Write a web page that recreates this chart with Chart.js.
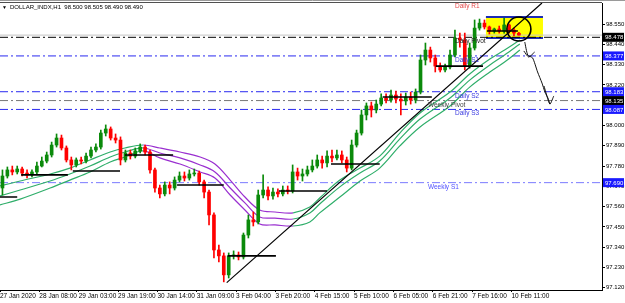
<!DOCTYPE html>
<html>
<head>
<meta charset="utf-8">
<script src="https://cdn.jsdelivr.net/npm/chart.js@4.4.1/dist/chart.umd.min.js"></script>
<style>
  html, body { margin: 0; padding: 0; background: #fff; }
</style>
</head>
<body>
<canvas id="dxChart" width="625" height="303"></canvas>
<script>
// DOLLAR_INDX H1, one candle here = 2 hours, x unit = candle slot
const symbolName = 'DOLLAR_INDX,H1';

const openP = [
  97.661, 97.726, 97.759, 97.748, 97.764, 97.742, 97.732, 97.748, 97.780, 97.807,
  97.840, 97.894, 97.932, 97.878, 97.813, 97.786, 97.813, 97.807, 97.834, 97.867,
  97.883, 97.959, 97.981, 97.932, 97.921, 97.813, 97.851, 97.834, 97.862, 97.883,
  97.856, 97.759, 97.661, 97.629, 97.677, 97.661, 97.704, 97.726, 97.715, 97.737,
  97.742, 97.694, 97.639, 97.515, 97.325, 97.293, 97.190, 97.293, 97.298, 97.287,
  97.406, 97.488, 97.477, 97.623, 97.650, 97.618, 97.639, 97.629, 97.650, 97.645,
  97.748, 97.726, 97.737, 97.759, 97.780, 97.813, 97.797, 97.834, 97.824, 97.840,
  97.813, 97.769, 97.894, 97.959, 98.057, 98.106, 98.084, 98.116, 98.149, 98.138,
  98.165, 98.143, 98.133, 98.154, 98.138, 98.181, 98.355, 98.409, 98.366, 98.322,
  98.301, 98.317, 98.382, 98.474, 98.463, 98.322, 98.420, 98.528, 98.555, 98.534,
  98.512, 98.523, 98.512, 98.545, 98.517, 98.500
];
const highP = [
  97.759, 97.775, 97.780, 97.780, 97.775, 97.759, 97.759, 97.802, 97.829, 97.856,
  97.910, 97.954, 97.948, 97.889, 97.829, 97.824, 97.829, 97.851, 97.883, 97.900,
  97.975, 98.003, 97.992, 97.954, 97.938, 97.867, 97.867, 97.878, 97.900, 97.894,
  97.867, 97.769, 97.677, 97.694, 97.694, 97.721, 97.748, 97.748, 97.759, 97.764,
  97.753, 97.704, 97.650, 97.526, 97.352, 97.309, 97.309, 97.320, 97.314, 97.417,
  97.515, 97.531, 97.650, 97.732, 97.667, 97.661, 97.656, 97.672, 97.672, 97.786,
  97.769, 97.764, 97.780, 97.813, 97.840, 97.834, 97.862, 97.867, 97.867, 97.862,
  97.829, 97.921, 97.975, 98.084, 98.122, 98.127, 98.138, 98.171, 98.171, 98.192,
  98.187, 98.171, 98.176, 98.181, 98.198, 98.382, 98.447, 98.425, 98.382, 98.339,
  98.333, 98.409, 98.517, 98.501, 98.501, 98.447, 98.572, 98.577, 98.572, 98.539,
  98.528, 98.539, 98.582, 98.550, 98.528, 98.505
];
const lowP = [
  97.623, 97.715, 97.732, 97.737, 97.726, 97.715, 97.721, 97.737, 97.775, 97.797,
  97.829, 97.883, 97.867, 97.802, 97.759, 97.775, 97.791, 97.797, 97.824, 97.856,
  97.872, 97.943, 97.921, 97.905, 97.786, 97.802, 97.818, 97.824, 97.851, 97.840,
  97.742, 97.639, 97.607, 97.618, 97.629, 97.650, 97.694, 97.699, 97.704, 97.726,
  97.677, 97.607, 97.461, 97.282, 97.260, 97.152, 97.173, 97.276, 97.271, 97.276,
  97.390, 97.455, 97.466, 97.607, 97.596, 97.601, 97.612, 97.618, 97.629, 97.634,
  97.704, 97.699, 97.726, 97.748, 97.769, 97.769, 97.775, 97.802, 97.813, 97.797,
  97.748, 97.759, 97.883, 97.948, 98.030, 98.046, 98.068, 98.106, 98.122, 98.127,
  98.122, 98.057, 98.111, 98.116, 98.122, 98.171, 98.328, 98.344, 98.290, 98.290,
  98.290, 98.306, 98.371, 98.425, 98.301, 98.311, 98.409, 98.517, 98.523, 98.496,
  98.501, 98.501, 98.501, 98.501, 98.485, 98.490
];
const closeP = [
  97.726, 97.759, 97.748, 97.764, 97.742, 97.732, 97.748, 97.780, 97.807, 97.840,
  97.894, 97.932, 97.878, 97.813, 97.786, 97.813, 97.807, 97.834, 97.867, 97.883,
  97.959, 97.981, 97.932, 97.921, 97.813, 97.851, 97.834, 97.862, 97.883, 97.856,
  97.759, 97.661, 97.629, 97.677, 97.661, 97.704, 97.726, 97.715, 97.737, 97.742,
  97.694, 97.639, 97.515, 97.325, 97.293, 97.190, 97.293, 97.298, 97.287, 97.406,
  97.488, 97.477, 97.623, 97.650, 97.618, 97.639, 97.629, 97.650, 97.645, 97.748,
  97.726, 97.737, 97.759, 97.780, 97.813, 97.797, 97.834, 97.824, 97.840, 97.813,
  97.769, 97.894, 97.959, 98.057, 98.106, 98.084, 98.116, 98.149, 98.138, 98.165,
  98.143, 98.133, 98.154, 98.138, 98.181, 98.355, 98.409, 98.366, 98.322, 98.301,
  98.317, 98.382, 98.474, 98.463, 98.322, 98.420, 98.528, 98.555, 98.534, 98.512,
  98.523, 98.512, 98.545, 98.517, 98.501, 98.490
];

// moving average ribbon (fast / mid / slow)
const ribbonX    = [0, 4.1, 10.2, 14.2, 18.3, 22.4, 25.4, 29.1, 32.5, 36.6, 40.7, 43.7, 46.8, 49.8, 52.8, 55.9, 59.6, 63.0, 65.0, 69.1, 73.2, 77.2, 81.3, 85.4, 91.5, 95.5, 99.6, 102.6, 105.7];
const ribbonFast = [97.672, 97.699, 97.737, 97.769, 97.813, 97.856, 97.878, 97.894, 97.878, 97.856, 97.829, 97.791, 97.704, 97.612, 97.542, 97.531, 97.526, 97.558, 97.607, 97.704, 97.769, 97.834, 97.959, 98.068, 98.181, 98.279, 98.360, 98.409, 98.463];
const ribbonMid  = [97.618, 97.650, 97.699, 97.737, 97.780, 97.829, 97.856, 97.878, 97.851, 97.824, 97.786, 97.748, 97.661, 97.580, 97.504, 97.498, 97.493, 97.526, 97.574, 97.667, 97.742, 97.807, 97.927, 98.035, 98.149, 98.246, 98.328, 98.382, 98.442];
const ribbonSlow = [97.569, 97.601, 97.661, 97.704, 97.748, 97.802, 97.829, 97.862, 97.824, 97.791, 97.748, 97.715, 97.623, 97.542, 97.466, 97.461, 97.455, 97.477, 97.526, 97.612, 97.699, 97.769, 97.889, 97.992, 98.106, 98.208, 98.290, 98.344, 98.409];
const ribbonDownFrom = 29.1, ribbonDownTo = 59.6;

// pivot / support levels
const levelNames  = ['Daily Pivot', 'Daily S1', 'Daily S2', 'Weekly Pivot', 'Daily S3', 'Weekly S1'];
const levelValues = [98.478, 98.377, 98.183, 98.135, 98.087, 97.690];
const r1Value = 98.668;

// short black lines drawn on the chart
const segStart = [0, 4.3, 14.8, 25.4, 36.0, 46.3, 56.7, 67.3, 77.8, 88.6, 99.0];
const segEnd   = [3.5, 13.8, 24.4, 35.2, 45.5, 56.1, 66.5, 77.2, 87.8, 98.2, 105.3];
const segLevel = [97.612, 97.732, 97.753, 97.840, 97.677, 97.293, 97.645, 97.791, 98.154, 98.322, 98.512];

const trendX = [46.1, 110.2];
const trendY = [97.148, 98.664];

const boxX = [98.8, 110.4];
const boxY = [98.474, 98.588];
const circleX = [105.5];
const circleY = [98.523];

const arrowX = [106.7, 107.3, 108.3, 109.3, 110.2, 110.8, 111.4, 111.8];
const arrowY = [98.452, 98.382, 98.366, 98.290, 98.230, 98.181, 98.149, 98.116];
const barbX = [110.6, 111.8, 112.6];
const barbY = [98.214, 98.116, 98.160];
const markX = [106.5, 107.5, 108.7];
const markY = [98.404, 98.371, 98.398];

// axes
const tickPos = [0, 8, 16, 24, 32, 40, 48, 56, 64, 72, 80, 88, 96, 104];
const tickLabels = ['27 Jan 2020', '28 Jan 08:00', '29 Jan 03:00', '29 Jan 19:00', '30 Jan 14:00', '31 Jan 09:00',
  '3 Feb 04:00', '3 Feb 20:00', '4 Feb 15:00', '5 Feb 10:00', '6 Feb 05:00', '6 Feb 21:00', '7 Feb 16:00', '10 Feb 11:00'];
const yTicks = [97.120, 97.230, 97.340, 97.450, 97.560, 97.670, 97.780, 97.890, 98.000, 98.110, 98.220, 98.330, 98.440, 98.550];
const xMax = 122.4, yMin = 97.108, yMax = 98.664;

// styles
const UP = '#0b8a0b', DOWN = '#ff0000';
const RIB_GREEN = '#2fae6a', RIB_PURPLE = '#9a2fd0';
const levelLine = ['#000000', '#2a2af0', '#2a2af0', '#777777', '#2a2af0', '#7b7bff'];
const levelText = ['#222222', '#3a3ae0', '#3a3ae0', '#444444', '#3a3ae0', '#5050ff'];
const levelBox  = ['#000000', '#1a1aff', '#1a1aff', '#000000', '#1a1aff', '#1a1aff'];
const FONT = '"Liberation Sans", "DejaVu Sans", sans-serif';

const candleColor = i => closeP[i] >= openP[i] ? UP : DOWN;

const withGaps = (groups) => {
  const out = [];
  groups.forEach(([xs, ys]) => {
    xs.forEach((x, i) => out.push({x: x, y: ys[i]}));
    out.push({x: xs[xs.length - 1], y: null});
  });
  return out;
};

const ribbonDataset = (vals, w) => ({
  type: 'line',
  data: ribbonX.map((x, i) => ({x: x, y: vals[i]})),
  borderColor: RIB_GREEN,
  borderWidth: w,
  pointRadius: 0,
  tension: 0.35,
  order: 4,
  segment: {
    borderColor: c => (c.p0.parsed.x >= ribbonDownFrom - 0.01 && c.p1.parsed.x <= ribbonDownTo + 0.01) ? RIB_PURPLE : RIB_GREEN
  }
});

const levelDatasets = levelValues.map((v, i) => ({
  type: 'line',
  data: [{x: 0, y: v}, {x: xMax, y: v}],
  borderColor: levelLine[i],
  borderWidth: 1,
  borderDash: [8, 3, 2, 3],
  pointRadius: 0,
  order: 5
}));

const overlay = {
  id: 'overlay',
  beforeDatasetsDraw(chart) {
    const {ctx, scales: {x, y}} = chart;
    const x0 = x.getPixelForValue(boxX[0]), x1 = x.getPixelForValue(boxX[1]);
    const y0 = y.getPixelForValue(boxY[1]), y1 = y.getPixelForValue(boxY[0]);
    ctx.save();
    ctx.fillStyle = '#ffff00';
    ctx.fillRect(x0, y0, x1 - x0, y1 - y0);
    ctx.strokeStyle = '#1c2bb5';
    ctx.lineWidth = 2;
    ctx.beginPath();
    ctx.moveTo(x0, y0); ctx.lineTo(x1, y0);
    ctx.moveTo(x0, y1); ctx.lineTo(x1, y1);
    ctx.stroke();
    ctx.restore();
  },
  afterDraw(chart) {
    const {ctx, chartArea: a, scales: {x, y}} = chart;
    ctx.save();
    // frame
    ctx.strokeStyle = '#9a9a9a';
    ctx.lineWidth = 1;
    ctx.beginPath(); ctx.moveTo(0, 0.5); ctx.lineTo(625, 0.5); ctx.stroke();
    ctx.strokeStyle = '#505050';
    ctx.beginPath(); ctx.moveTo(0, a.top - 0.5); ctx.lineTo(a.right, a.top - 0.5); ctx.stroke();

    // level names, under the line
    ctx.font = '6.5px ' + FONT;
    ctx.textBaseline = 'top';
    ctx.textAlign = 'left';
    levelNames.forEach((name, i) => {
      const lx = name.startsWith('Weekly') ? 87.0 : 92.5;
      ctx.fillStyle = levelText[i];
      ctx.fillText(name, x.getPixelForValue(lx), y.getPixelForValue(levelValues[i]) + 1);
    });
    ctx.fillStyle = '#e64a4a';
    ctx.fillText('Daily R1', x.getPixelForValue(92.5), Math.max(a.top, y.getPixelForValue(r1Value) + 1));

    // price boxes on the axis
    ctx.font = '6px ' + FONT;
    ctx.textBaseline = 'middle';
    levelValues.forEach((v, i) => {
      const py = y.getPixelForValue(v);
      ctx.fillStyle = levelBox[i];
      ctx.fillRect(a.right + 1, py - 4.5, 21, 9);
      ctx.fillStyle = '#ffffff';
      ctx.fillText(v.toFixed(3), a.right + 3, py + 0.5);
    });

    // header
    const n = closeP.length - 1;
    ctx.fillStyle = '#000';
    ctx.font = '5px ' + FONT;
    ctx.fillText('\u25BC', 2, 7.5);
    ctx.font = '6px ' + FONT;
    ctx.fillText(symbolName + '  ' + [openP[n], highP[n], lowP[n], closeP[n]].map(v => v.toFixed(3)).join(' '), 10, 7.5);
    ctx.restore();
  }
};

new Chart(document.getElementById('dxChart'), {
  type: 'bar',
  data: {
    datasets: [
      {
        type: 'line',
        data: withGaps([[arrowX, arrowY], [barbX, barbY], [markX, markY]]),
        borderColor: '#111',
        borderWidth: 1,
        pointRadius: 0,
        tension: 0.2,
        spanGaps: false,
        clip: false,
        order: 0
      },
      {
        type: 'line',
        data: circleX.map((x, i) => ({x: x, y: circleY[i]})),
        showLine: false,
        pointRadius: 12,
        pointBorderWidth: 1.6,
        pointBorderColor: '#000',
        pointBackgroundColor: 'rgba(0,0,0,0)',
        order: 0
      },
      {
        type: 'line',
        data: trendX.map((x, i) => ({x: x, y: trendY[i]})),
        borderColor: '#000',
        borderWidth: 1.2,
        pointRadius: 0,
        order: 0
      },
      {
        type: 'line',
        data: withGaps(segStart.map((s, i) => [[s, segEnd[i]], [segLevel[i], segLevel[i]]])),
        borderColor: '#000',
        borderWidth: 1.6,
        pointRadius: 0,
        spanGaps: false,
        order: 1
      },
      {
        data: closeP.map((c, i) => ({x: i + 0.5, y: [openP[i], c]})),
        backgroundColor: ctx => candleColor(ctx.dataIndex),
        barThickness: 3,
        minBarLength: 1,
        grouped: false,
        order: 2
      },
      {
        data: closeP.map((c, i) => ({x: i + 0.5, y: [lowP[i], highP[i]]})),
        backgroundColor: ctx => candleColor(ctx.dataIndex),
        barThickness: 1,
        grouped: false,
        order: 3
      },
      ribbonDataset(ribbonFast, 1.2),
      ribbonDataset(ribbonMid, 1.2),
      ribbonDataset(ribbonSlow, 1.2),
      ...levelDatasets,
      {
        type: 'line',
        data: [{x: 0, y: closeP[closeP.length - 1]}, {x: xMax, y: closeP[closeP.length - 1]}],
        borderColor: '#c4c4c4',
        borderWidth: 1,
        pointRadius: 0,
        order: 6
      }
    ]
  },
  options: {
    responsive: false,
    animation: false,
    devicePixelRatio: 1,
    layout: { padding: { top: 3, left: 0, right: 0, bottom: 0 }, autoPadding: false },
    plugins: { legend: { display: false }, tooltip: { enabled: false } },
    scales: {
      x: {
        type: 'linear',
        min: 0,
        max: xMax,
        offset: false,
        afterBuildTicks: s => { s.ticks = tickPos.map(v => ({value: v})); },
        afterFit: s => { s.height = 13; s.paddingLeft = 0; s.paddingRight = 0; },
        ticks: {
          autoSkip: false,
          maxRotation: 0,
          align: 'start',
          padding: 0,
          color: '#000',
          font: { size: 6.5, family: FONT },
          callback: (v, i) => tickLabels[i]
        },
        grid: { offset: false, drawOnChartArea: false, tickLength: 2, color: '#000' },
        border: { display: true, color: '#000' }
      },
      y: {
        position: 'right',
        min: yMin,
        max: yMax,
        afterBuildTicks: s => { s.ticks = yTicks.map(v => ({value: v})); },
        afterFit: s => { s.width = 23; s.paddingTop = 0; s.paddingBottom = 0; },
        ticks: {
          padding: 1,
          color: '#000',
          font: { size: 6, family: FONT },
          callback: v => Number(v).toFixed(3)
        },
        grid: { drawOnChartArea: false, tickLength: 3, color: '#000' },
        border: { display: true, color: '#000' }
      }
    }
  },
  plugins: [overlay]
});
</script>
</body>
</html>
